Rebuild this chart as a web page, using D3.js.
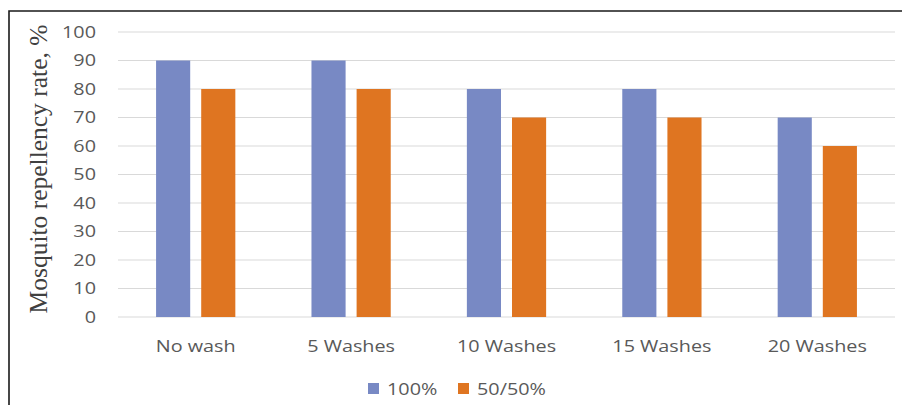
<!DOCTYPE html>
<html>
<head>
<meta charset="utf-8">
<script src="https://cdn.jsdelivr.net/npm/d3@7"></script>
<style>
  html, body { margin: 0; padding: 0; background: #fff; }
  svg { display: block; }
</style>
</head>
<body>
<div id="chart"></div>
<script>
'use strict';

const categories = ['No wash', '5 Washes', '10 Washes', '15 Washes', '20 Washes'];
const seriesNames = ['100%', '50/50%'];
const values100 = [90, 90, 80, 80, 70];
const values5050 = [80, 80, 70, 70, 60];
const yTicks = [0, 10, 20, 30, 40, 50, 60, 70, 80, 90, 100];

const settings = {
    width: 902,
    height: 405,
    elId: '#chart',
};

const plot = { left: 118, right: 895, top: 32, bottom: 317 };
const colors = ['#7889c4', '#df7521'];
const stretch = 1.2; // the picture text looks stretched sideways

const svg = d3.select(settings.elId)
    .append('svg')
    .attr('width', settings.width)
    .attr('height', settings.height);

// frame (left and top only)
svg.append('path')
    .attr('d', `M9,405 L9,11 L902,11`)
    .attr('fill', 'none')
    .attr('stroke', '#1a1a1a')
    .attr('stroke-width', 1.6);

const y = d3.scaleLinear()
    .domain([0, 100])
    .range([plot.bottom, plot.top]);

const x0 = d3.scaleBand()
    .domain(categories)
    .range([plot.left, plot.right])
    .paddingInner(0.49)
    .paddingOuter(0.245);

const x1 = d3.scaleBand()
    .domain(seriesNames)
    .range([0, x0.bandwidth()])
    .paddingInner(0.244);

// gridlines
svg.append('g')
    .selectAll('line')
    .data(yTicks)
    .join('line')
    .attr('x1', plot.left)
    .attr('x2', plot.right)
    .attr('y1', d => y(d))
    .attr('y2', d => y(d))
    .attr('stroke', '#d9d9d9')
    .attr('stroke-width', 1.2);

// y tick labels
svg.append('g')
    .selectAll('text')
    .data(yTicks)
    .join('text')
    .attr('transform', d => `translate(96,${y(d)}) scale(${stretch},1)`)
    .attr('dy', '0.36em')
    .attr('text-anchor', 'end')
    .attr('font-family', '"Open Sans", sans-serif')
    .attr('font-size', 16.5)
    .attr('fill', '#595959')
    .text(d => d);

// bars
const rows = categories.map((c, i) => ({ cat: c, vals: [values100[i], values5050[i]] }));

const groups = svg.append('g')
    .selectAll('g')
    .data(rows)
    .join('g')
    .attr('transform', d => `translate(${x0(d.cat)},0)`);

groups.selectAll('rect')
    .data(d => d.vals.map((v, j) => ({ name: seriesNames[j], value: v, j })))
    .join('rect')
    .attr('x', d => x1(d.name))
    .attr('y', d => y(d.value))
    .attr('width', x1.bandwidth())
    .attr('height', d => y(0) - y(d.value))
    .attr('fill', d => colors[d.j]);

// category labels
svg.append('g')
    .selectAll('text')
    .data(categories)
    .join('text')
    .attr('transform', d => `translate(${x0(d) + x0.bandwidth() / 2},352) scale(${stretch},1)`)
    .attr('text-anchor', 'middle')
    .attr('font-family', '"Open Sans", sans-serif')
    .attr('font-size', 16.5)
    .attr('fill', '#595959')
    .text(d => d);

// y title
svg.append('text')
    .attr('transform', 'translate(47,169) rotate(-90)')
    .attr('text-anchor', 'middle')
    .attr('font-family', '"Liberation Serif", "Times New Roman", serif')
    .attr('font-size', 25.5)
    .attr('fill', '#404040')
    .text('Mosquito repellency rate, %');

// legend
const legendItems = [
    { name: seriesNames[0], x: 368, color: colors[0] },
    { name: seriesNames[1], x: 458, color: colors[1] },
];
const legend = svg.append('g')
    .selectAll('g')
    .data(legendItems)
    .join('g')
    .attr('transform', d => `translate(${d.x},383)`);

legend.append('rect')
    .attr('width', 11)
    .attr('height', 11)
    .attr('fill', d => d.color);

legend.append('text')
    .attr('transform', `translate(19,12) scale(${stretch},1)`)
    .attr('font-family', '"Open Sans", sans-serif')
    .attr('font-size', 16.5)
    .attr('fill', '#595959')
    .text(d => d.name);
</script>
</body>
</html>
